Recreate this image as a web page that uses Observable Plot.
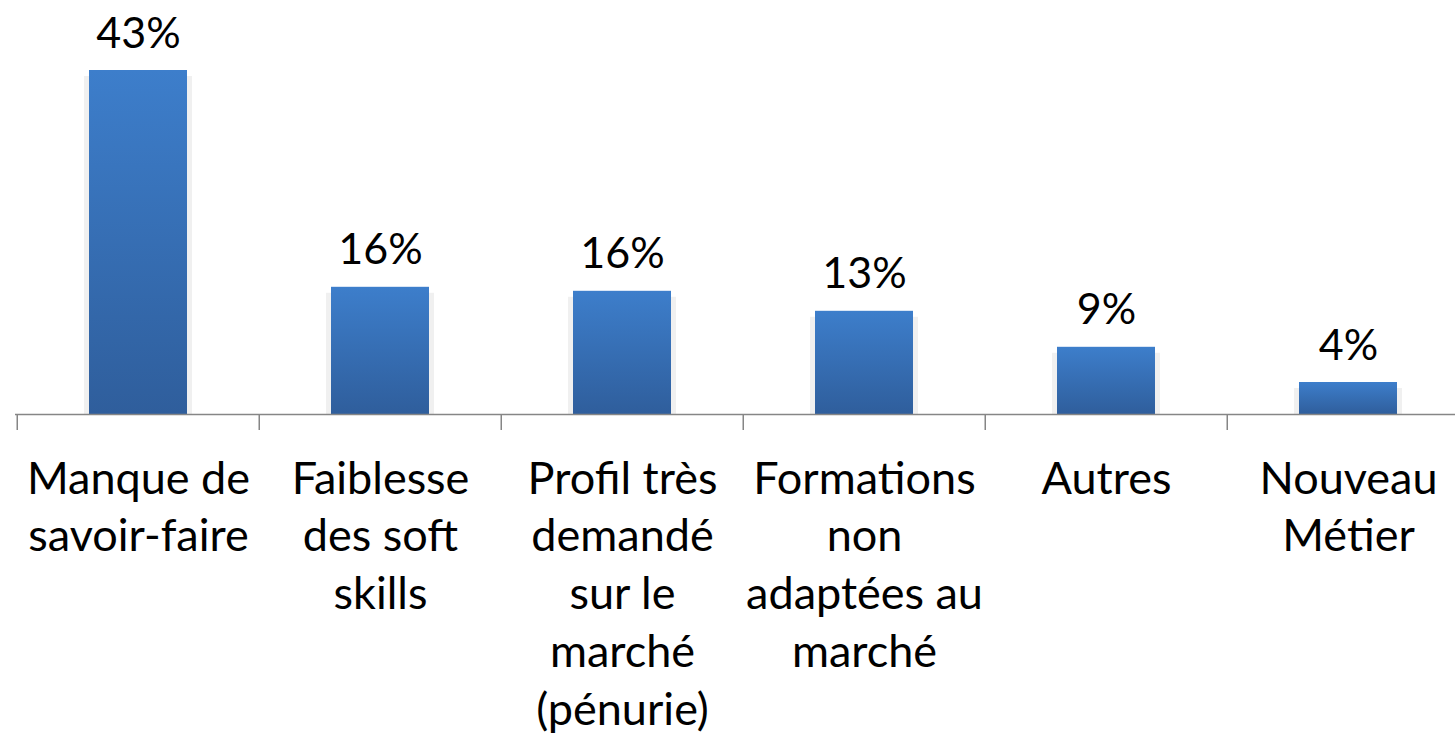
<!DOCTYPE html>
<html>
<head>
<meta charset="utf-8">
<script src="https://cdn.jsdelivr.net/npm/d3@7"></script>
<script src="https://cdn.jsdelivr.net/npm/@observablehq/plot@0.6"></script>
<style>
  html, body { margin: 0; padding: 0; background: #fff; overflow: hidden; }
  #chart { width: 1455px; height: 735px; overflow: hidden; }
  #chart svg { max-width: none !important; }
</style>
</head>
<body>
<div id="chart"></div>
<script>
const categories = [
  "Manque de\nsavoir-faire",
  "Faiblesse\ndes soft\nskills",
  "Profil très\ndemandé\nsur le\nmarché\n(pénurie)",
  "Formations\nnon\nadaptées au\nmarché",
  "Autres",
  "Nouveau\nMétier"
];
const values = [43.0, 15.9, 15.4, 12.9, 8.4, 4.0];
const valueLabels = ["43%", "16%", "16%", "13%", "9%", "4%"];

const data = categories.map((c, i) => ({category: c, value: values[i], label: valueLabels[i]}));

const W = 1470, H = 735;
const marginLeft = 15, marginRight = 0;
const bandW = (W - marginLeft - marginRight) / categories.length;
const FONT = "Lato, 'Noto Sans', sans-serif";
const catFont = 45, catLH = 58 / 45;

function gradientDefs() {
  const ns = "http://www.w3.org/2000/svg";
  const defs = document.createElementNS(ns, "defs");
  const g = document.createElementNS(ns, "linearGradient");
  g.setAttribute("id", "barGrad");
  g.setAttribute("x1", "0"); g.setAttribute("y1", "0");
  g.setAttribute("x2", "0"); g.setAttribute("y2", "1");
  [["0%", "#3D7ECB"], ["100%", "#2F5E9C"]].forEach(([o, c]) => {
    const s = document.createElementNS(ns, "stop");
    s.setAttribute("offset", o); s.setAttribute("stop-color", c);
    g.appendChild(s);
  });
  defs.appendChild(g);
  return defs;
}

const chart = Plot.plot({
  width: W,
  height: H,
  marginLeft,
  marginRight,
  marginTop: 70,
  marginBottom: 321,
  style: {fontFamily: FONT, background: "#fff", maxWidth: "none"},
  x: {domain: categories, paddingInner: 0.596, paddingOuter: 0.298, axis: null},
  y: {domain: [0, 43], axis: null},
  marks: [
    gradientDefs,
    Plot.barY(data, {x: "category", y: "value", fill: "#000", fillOpacity: 0.06, insetLeft: -5, insetRight: -5, insetTop: 6}),
    Plot.barY(data, {x: "category", y: "value", fill: "url(#barGrad)"}),
    Plot.ruleY([0], {stroke: "#868686", strokeWidth: 1.5}),
    Plot.ruleX(categories, {x: d => d, dx: -bandW / 2, y1: 0, y2: -2, stroke: "#868686", strokeWidth: 1.5}),
    Plot.ruleX([categories[categories.length - 1]], {x: d => d, dx: bandW / 2, y1: 0, y2: -2, stroke: "#868686", strokeWidth: 1.5}),
    Plot.text(data, {x: "category", y: "value", text: "label", dy: -23, lineAnchor: "bottom", fontSize: 43, fill: "#000"}),
    Plot.text(data, {x: "category", y: () => 0, text: "category", lineAnchor: "top", dy: 79 - 0.71 * catLH * catFont, fontSize: catFont, lineHeight: catLH, fill: "#000"})
  ]
});

document.getElementById("chart").appendChild(chart);
</script>
</body>
</html>
